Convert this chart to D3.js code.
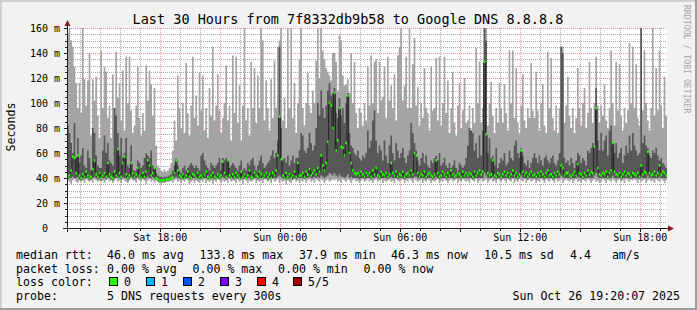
<!DOCTYPE html>
<html><head><meta charset="utf-8">
<script src="https://cdnjs.cloudflare.com/ajax/libs/d3/7.8.5/d3.min.js"></script>
<style>html,body{margin:0;padding:0;background:#f2f2f2;overflow:hidden}svg{display:block}text{font-family:"DejaVu Sans Mono",monospace;white-space:pre}</style>
</head><body><svg id="c" width="697" height="310"></svg>
<script>
// ---- data: 360 samples, 300 s apart (Sat 13:20 -> Sun 19:20), values in ms ----
const maxRtt = [
156,163,150,145,129,116,96,116,92,160,119,98,118,140,74,119,102,121,90,72,
142,96,129,125,88,98,72,123,96,141,104,116,86,126,78,137,100,137,94,76,
82,98,129,88,74,92,78,130,102,126,115,90,112,66,50,48,46,45,47,45,
46,48,52,62,86,70,122,96,80,100,76,132,92,74,98,137,88,106,82,124,
94,122,78,96,72,112,90,145,86,98,123,94,76,88,100,130,86,98,70,138,
92,137,84,114,70,98,161,86,96,74,133,96,128,84,122,96,161,150,86,118,
96,78,119,88,134,96,145,150,160,86,104,80,160,96,160,88,116,76,100,135,
160,96,82,100,124,98,92,110,100,134,160,120,160,142,135,128,125,122,118,140,
140,133,110,154,150,122,114,115,119,108,140,100,133,92,80,96,92,82,100,86,
129,98,138,100,133,135,92,133,102,105,129,88,137,102,114,96,123,86,138,145,
160,102,114,137,96,160,96,131,152,98,113,82,100,88,128,96,92,78,129,94,
96,136,86,137,82,100,137,92,118,76,96,125,84,74,98,116,80,94,120,84,
86,98,78,96,84,144,100,133,84,96,160,160,82,100,117,90,76,96,84,116,
96,84,115,92,78,142,100,142,88,128,84,76,98,123,86,80,96,88,132,94,
88,125,94,78,100,115,82,76,141,96,136,88,78,98,76,96,145,145,84,98,
121,90,80,96,76,88,128,96,82,100,112,80,92,133,96,84,100,137,98,84,
98,90,115,86,80,96,142,100,82,133,94,131,90,78,96,84,94,148,100,145,
96,131,88,82,160,94,142,100,86,78,96,160,90,128,94,142,98,80,121,90];
const p4Rtt = [
82,76,68,60,84,56,72,52,58,64,50,48,62,56,46,80,76,58,50,48,
48,62,74,60,68,54,52,50,96,90,76,58,72,56,60,72,50,48,66,46,
46,45,54,52,48,50,56,60,58,56,62,50,48,44,42,41,41,40,41,41,
41,42,43,46,50,56,50,46,44,48,50,46,48,50,52,50,48,50,48,46,
58,60,54,50,48,46,52,50,48,50,52,56,46,56,54,56,54,48,50,52,
50,48,46,50,54,46,48,46,52,50,54,56,50,46,50,54,58,52,48,50,
52,54,58,62,56,60,70,145,80,54,56,52,58,50,54,58,52,56,56,62,
76,74,62,60,64,76,68,62,66,80,100,90,110,96,88,98,110,116,106,108,
112,92,88,104,90,96,84,100,108,76,66,64,60,58,62,56,54,58,56,60,
78,64,70,86,94,70,60,66,62,54,70,58,52,66,74,60,54,68,62,56,
60,64,56,52,58,62,84,76,68,62,54,50,56,60,52,58,50,48,54,52,
56,58,54,60,50,52,56,50,48,52,48,50,54,48,46,52,50,48,50,56,
66,80,78,76,62,68,56,74,58,78,160,150,60,72,56,58,50,64,48,52,
56,54,60,50,52,62,56,54,66,70,60,56,64,58,52,50,54,48,52,56,
60,56,52,58,54,50,56,58,54,52,56,58,52,50,54,60,145,140,56,52,
54,50,56,52,48,54,60,58,52,56,54,50,62,60,64,68,65,112,70,62,
76,62,70,74,58,78,82,68,60,68,56,60,64,52,58,66,60,74,62,76,
66,62,58,60,160,68,74,66,64,58,56,62,60,64,58,54,56,52,50,48];
const medianRtt = [
41,42,46,57,56,44,58,42,40,43,41,45,42,40,41,47,54,43,41,44,
40,42,44,41,52,43,41,40,45,42,63,44,41,52,57,43,40,42,52,44,
41,43,48,42,40,44,41,45,54,50,42,44,48,40,39,38,38,38,38,39,
39,39,40,41,44,54,46,42,41,43,40,42,45,41,40,43,42,40,44,41,
42,40,43,45,41,40,42,44,41,40,43,41,42,53,44,41,54,42,40,43,
41,44,42,40,45,41,43,40,42,46,41,40,44,42,41,45,43,40,42,44,
41,43,40,44,42,46,58,89,55,42,40,44,41,43,40,42,45,41,52,42,
42,44,41,45,43,47,42,44,46,43,48,45,58,50,46,52,69,100,98,80,
108,62,70,96,65,64,58,68,106,60,52,46,44,43,44,42,45,43,41,44,
42,44,41,46,43,48,42,41,45,43,42,44,41,43,52,44,42,45,41,43,
42,45,41,43,44,42,46,43,60,58,44,41,43,42,45,41,43,44,42,41,
43,54,44,41,42,45,43,41,44,42,46,43,41,42,44,43,41,45,42,44,
42,44,43,41,45,42,44,46,43,45,133,75,44,42,43,54,42,41,44,43,
41,43,45,42,44,41,43,46,42,44,41,43,62,45,42,44,41,43,45,42,
43,41,44,42,45,43,41,44,46,42,43,41,44,42,45,43,50,48,42,44,
44,42,41,43,45,42,51,44,43,41,44,42,46,43,45,44,65,96,48,43,
42,44,43,45,41,44,46,68,45,43,42,44,41,43,45,42,44,43,41,44,
43,42,44,41,50,43,45,44,61,44,42,43,45,42,44,50,43,45,44,42];
const p2Rtt = [
39,40,40,41,40,40,41,39,38,40,39,40,40,38,39,40,41,40,39,40,
38,40,40,39,41,40,39,38,40,40,41,40,39,41,40,40,38,40,41,40,
39,40,41,40,39,40,39,40,41,40,40,41,40,39,38,37,37,37,37,38,
38,38,39,40,40,41,40,40,39,40,39,40,40,39,39,40,40,39,40,39,
40,39,40,40,39,39,40,40,39,39,40,39,40,41,40,39,41,40,39,40,
39,40,40,39,40,39,40,39,40,40,39,39,40,40,39,40,40,39,40,40,
39,40,39,40,40,40,41,42,41,40,39,40,39,40,39,39,40,39,40,40,
40,40,39,40,40,41,40,40,41,40,41,40,42,41,40,41,42,44,43,42,
44,42,41,43,41,41,40,41,43,40,41,40,40,40,40,39,40,40,39,40,
40,40,39,40,40,41,40,39,40,40,40,40,39,40,41,40,40,40,39,40,
40,40,39,40,40,40,40,40,41,41,40,39,40,40,40,39,40,40,40,39,
40,41,40,39,40,40,40,39,40,40,40,40,39,40,40,40,39,40,40,40,
40,40,40,39,40,40,40,40,40,40,44,42,40,40,40,41,40,39,40,40,
39,40,40,40,40,39,40,40,40,40,39,40,42,40,40,40,39,40,40,40,
40,39,40,40,40,40,39,40,40,40,40,39,40,40,40,40,42,41,40,40,
40,40,39,40,40,40,41,40,40,39,40,40,40,40,40,40,42,44,41,40,
40,40,40,40,39,40,40,42,40,40,40,40,39,40,40,40,40,40,39,40,
40,40,40,39,41,40,40,40,42,40,40,40,40,40,40,41,40,40,40,40];
const minRtt = [
38,37,35,38,39,37,36,38,37,38,36,39,38,37,38,36,39,38,37,38,
37,38,36,38,39,37,38,36,38,39,37,38,36,39,38,37,36,38,39,38,
38,36,39,38,37,39,38,35,38,39,37,38,36,38,37,36,35,36,36,37,
37,37,38,36,38,39,37,38,36,38,37,39,38,35,37,38,36,38,37,36,
38,37,39,36,38,37,38,35,38,37,39,38,36,38,37,38,36,39,37,38,
38,36,39,37,38,35,39,38,36,38,37,38,39,36,38,37,38,36,39,38,
37,38,36,39,37,38,39,36,38,37,38,35,38,37,36,38,39,37,38,36,
38,37,39,36,38,39,37,38,36,39,38,37,39,38,36,38,39,37,38,39,
38,39,37,38,36,39,38,37,39,38,36,38,39,37,38,36,38,39,37,38,
39,37,38,36,38,39,37,38,39,36,38,37,38,39,37,38,36,39,38,37,
38,39,36,38,37,39,38,36,39,38,37,38,39,36,38,37,39,38,36,38,
37,38,39,36,38,37,39,38,36,38,39,37,38,39,36,38,37,39,38,37,
38,36,39,38,37,39,36,38,39,37,38,39,36,38,39,37,38,36,39,38,
37,39,38,36,39,38,37,39,36,38,37,39,38,37,39,36,38,39,37,38,
39,36,38,37,39,38,36,39,38,37,39,38,36,39,37,38,39,36,38,39,
38,37,39,36,38,39,37,38,36,39,38,37,39,38,36,38,39,37,38,36,
37,39,38,36,39,38,37,39,38,36,38,39,37,38,36,39,38,37,39,38,
39,38,36,39,37,38,39,36,38,39,37,38,36,39,38,37,39,38,36,38];
const yTickValues = [0,20,40,60,80,100,120,140,160];
const yTickLabels = ["0  ","20 m","40 m","60 m","80 m","100 m","120 m","140 m","160 m"];
const lossLabels = ["0","1","2","3","4","5/5"];
const lossColors = ["#26ff00","#00b8ff","#0059ff","#7e00ff","#ff0000","#a00000"];
const titleText = "Last 30 Hours from 7f8332db9b58 to Google DNS 8.8.8.8";
const rttItems = ["46.0 ms avg","133.8 ms max","37.9 ms min","46.3 ms now","10.5 ms sd","4.4   am/s"];
const lossItems = ["0.00 % avg","0.00 % max","0.00 % min","0.00 % now"];

// ---- chart ----
const svg = d3.select("#c");
const start = new Date(2025,9,25,13,20,7), end = new Date(2025,9,26,19,20,7);
const stepMs = 300000;
const n = maxRtt.length;
const times = d3.range(n+1).map(i => new Date(+start + i*stepMs));
const x = d3.scaleTime().domain([start,end]).range([67,667]);
const y = d3.scaleLinear().domain([0,160]).range([228,28]);
const rows = d3.range(n).map(i => ({t:times[i], mx:maxRtt[i], p4:p4Rtt[i], md:medianRtt[i], p2:p2Rtt[i], mn:minRtt[i], t2:times[i+1]}));
const rowsEnd = rows.concat([Object.assign({}, rows[n-1], {t:times[n]})]);

// frame
svg.append("rect").attr("width",697).attr("height",310).attr("fill","#f2f2f2");
svg.append("rect").attr("x",0).attr("y",0).attr("width",697).attr("height",2).attr("fill","#cfcfcf");
svg.append("rect").attr("x",0).attr("y",0).attr("width",2).attr("height",310).attr("fill","#cfcfcf");
svg.append("rect").attr("x",0).attr("y",308).attr("width",697).attr("height",2).attr("fill","#9e9e9e");
svg.append("rect").attr("x",695).attr("y",0).attr("width",2).attr("height",310).attr("fill","#9e9e9e");
svg.append("rect").attr("x",67).attr("y",28).attr("width",600).attr("height",200).attr("fill","#ffffff");

// grid (beneath the graph)
const grid = svg.append("g").attr("shape-rendering","crispEdges");
const minorY = d3.range(5,160,5).filter(v=>v%20!==0);
grid.selectAll("line.hm").data(minorY).join("line")
  .attr("x1",67).attr("x2",667).attr("y1",v=>Math.round(y(v))+0.5).attr("y2",v=>Math.round(y(v))+0.5)
  .attr("stroke","rgba(143,143,143,0.75)").attr("stroke-dasharray","1,1");
grid.selectAll("line.hM").data(yTickValues.slice(1)).join("line")
  .attr("x1",67).attr("x2",667).attr("y1",v=>Math.round(y(v))+0.5).attr("y2",v=>Math.round(y(v))+0.5)
  .attr("stroke","rgba(222,79,79,0.6)").attr("stroke-dasharray","1,1");
const hours = d3.timeHour.every(1).range(start,end);
const minorX = hours.filter(h=>h.getHours()%3!==0);
const majorX = hours.filter(h=>h.getHours()%3===0);
grid.selectAll("line.vm").data(minorX).join("line")
  .attr("x1",h=>Math.round(x(h))+0.5).attr("x2",h=>Math.round(x(h))+0.5).attr("y1",28).attr("y2",228)
  .attr("stroke","rgba(143,143,143,0.75)").attr("stroke-dasharray","1,1");
grid.selectAll("line.vM").data(majorX).join("line")
  .attr("x1",h=>Math.round(x(h))+0.5).attr("x2",h=>Math.round(x(h))+0.5).attr("y1",28).attr("y2",228)
  .attr("stroke","rgba(222,79,79,0.6)").attr("stroke-dasharray","1,1");

svg.append("defs").append("clipPath").attr("id","pc").append("rect").attr("x",67).attr("y",28).attr("width",600).attr("height",200);
const g = svg.append("g").attr("clip-path","url(#pc)");

const area = (lo,hi) => d3.area().curve(d3.curveStepAfter).x(d=>x(d.t)).y0(d=>y(d[lo])).y1(d=>y(d[hi]));
g.append("path").attr("d",area("mn","mx")(rowsEnd)).attr("fill","#a4a4a4");
g.append("path").attr("d",area("p2","p4")(rowsEnd)).attr("fill","#585858");
g.append("path").attr("d", d3.line().curve(d3.curveStepAfter).x(d=>x(d.t)).y(d=>Math.round(y(d.md))+0.5)(rowsEnd))
  .attr("fill","none").attr("stroke","#202020").attr("stroke-width",1);
g.selectAll("rect.med").data(rows).join("rect").attr("class","med")
  .attr("x",d=>x(d.t)).attr("width",d=>x(d.t2)-x(d.t))
  .attr("y",d=>y(d.md)-1.3).attr("height",2.6).attr("fill",lossColors[0]);

// ticks
const ax = svg.append("g").attr("shape-rendering","crispEdges").attr("stroke","#1f1f1f");
ax.selectAll("line.ty").data(d3.range(5,161,5)).join("line")
  .attr("x1",v=>v%20===0?64:65).attr("x2",67).attr("y1",v=>Math.round(y(v))+0.5).attr("y2",v=>Math.round(y(v))+0.5);
ax.selectAll("line.tx").data(hours).join("line")
  .attr("x1",h=>Math.round(x(h))+0.5).attr("x2",h=>Math.round(x(h))+0.5).attr("y1",229).attr("y2",h=>h.getHours()%3===0?232:231);
// axes
ax.append("line").attr("x1",63).attr("x2",670).attr("y1",228.5).attr("y2",228.5);
ax.append("line").attr("x1",67.5).attr("x2",67.5).attr("y1",232).attr("y2",25);
svg.append("path").attr("d","M64.5,26L70.5,26L67.5,20Z").attr("fill","#801f1f");
svg.append("path").attr("d","M668,225.5L668,231.5L674,228.5Z").attr("fill","#801f1f");

// axis labels
svg.selectAll("text.yl").data(yTickValues).join("text").attr("class","yl")
  .attr("x",60).attr("y",v=>y(v)+3.5).attr("text-anchor","end").attr("font-size","10px").attr("fill","#000")
  .text((v,i)=>yTickLabels[i]);
const labelTicks = d3.timeHour.every(6).range(start,end);
svg.selectAll("text.xl").data(labelTicks).join("text").attr("class","xl")
  .attr("x",h=>x(h)).attr("y",241).attr("text-anchor","middle").attr("font-size","10px").attr("fill","#000")
  .text(d3.timeFormat("%a %H:%M"));

// title, unit, watermark
svg.append("text").attr("x",348).attr("y",24).attr("text-anchor","middle").attr("font-size","13.5px").attr("fill","#000").text(titleText);
svg.append("text").attr("transform","translate(15,127) rotate(-90)").attr("text-anchor","middle").attr("font-size","11.6px").attr("fill","#000").text("Seconds");
svg.append("text").attr("transform","translate(684,5) rotate(90)").attr("font-size","8.2px").attr("fill","#a6a6a6").text("RRDTOOL / TOBI OETIKER");

// legend
const leg = svg.append("g").attr("font-size","11.6px").attr("fill","#000");
leg.append("text").attr("x",16).attr("y",259).text("median rtt:");
const rttX = [107,199.5,299,391,484,570];
rttItems.forEach((s,i)=>leg.append("text").attr("x",rttX[i]).attr("y",259).text(s));
leg.append("text").attr("x",16).attr("y",272.5).text("packet loss:");
const lossX = [107,192.5,278,363.5];
lossItems.forEach((s,i)=>leg.append("text").attr("x",lossX[i]).attr("y",272.5).text(s));
leg.append("text").attr("x",16).attr("y",286).text("loss color:");
const boxX = [109,146,183,220,257,293];
lossLabels.forEach((s,i)=>{
  leg.append("rect").attr("x",boxX[i]+0.5).attr("y",277.5).attr("width",8).attr("height",8).attr("fill",lossColors[i]).attr("stroke","#000").attr("stroke-width",1);
  leg.append("text").attr("x",boxX[i]+15).attr("y",286).text(s);
});
leg.append("text").attr("x",16).attr("y",300).text("probe:");
leg.append("text").attr("x",107).attr("y",300).text("5 DNS requests every 300s");
leg.append("text").attr("x",680).attr("y",300).attr("text-anchor","end").text("Sun Oct 26 19:20:07 2025");
</script></body></html>
